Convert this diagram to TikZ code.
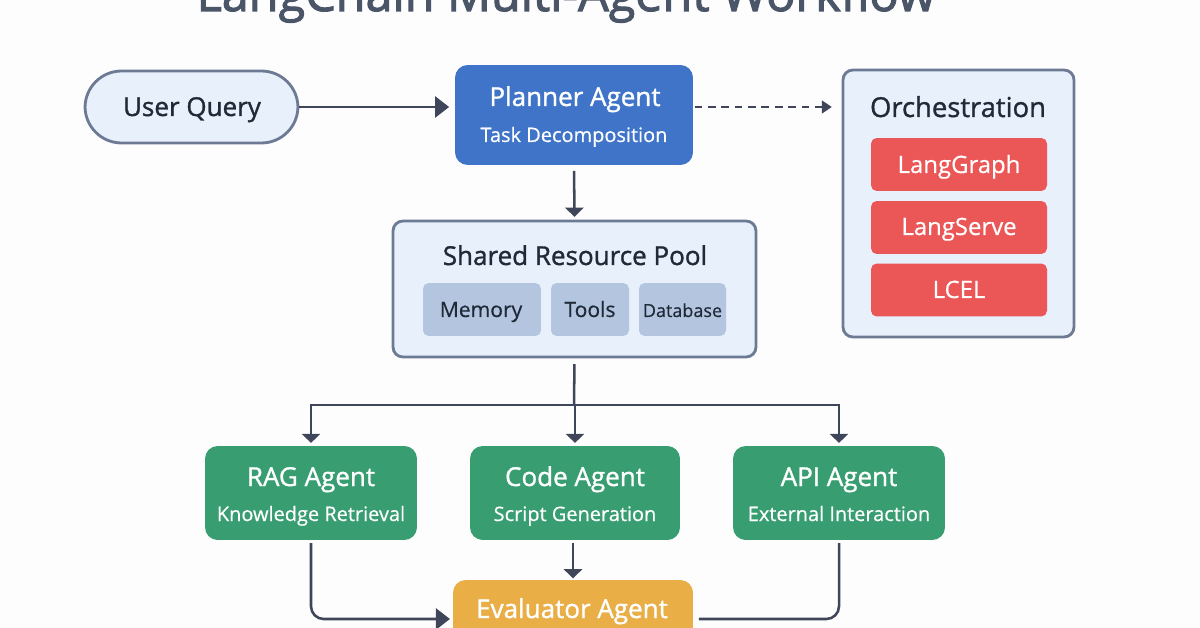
\documentclass[tikz,border=0pt]{standalone}
\usepackage{fontspec}
\setmainfont{Open Sans}[FakeBold=1.2]
\newfontfamily\titlefont{Open Sans}[FakeBold=2.2]
\newfontfamily\subfont{Open Sans}[FakeBold=0.5]
\usetikzlibrary{arrows.meta}
\definecolor{pagewhite}{HTML}{FDFDFE}
\definecolor{paleblue}{HTML}{E7F0FB}
\definecolor{edgeslate}{HTML}{6C7A94}
\definecolor{plannerblue}{HTML}{3F74C8}
\definecolor{agentgreen}{HTML}{389E72}
\definecolor{toolred}{HTML}{EB5757}
\definecolor{evalorange}{HTML}{E9AE45}
\definecolor{slotblue}{HTML}{B4C6DF}
\definecolor{inkdark}{HTML}{1F2937}
\definecolor{titleslate}{HTML}{4A5568}
\definecolor{linkslate}{HTML}{3F4659}
\tikzset{
    panel/.style={draw=edgeslate, line width=2pt, fill=paleblue, rounded corners=7pt, inner sep=0pt},
    solidbox/.style={rounded corners=9pt, inner sep=0pt},
    smallbox/.style={rounded corners=4pt, inner sep=0pt},
    head/.style={font=\fontsize{18.5}{20}\selectfont, inner sep=0pt, anchor=base},
    sub/.style={font=\subfont\fontsize{14.2}{16}\selectfont, inner sep=0pt, anchor=base, text=white},
    chip/.style={font=\subfont\fontsize{15}{17}\selectfont, inner sep=0pt, anchor=base, text=inkdark},
    toollabel/.style={font=\subfont\fontsize{17}{19}\selectfont, inner sep=0pt, anchor=base, text=white},
    plainlink/.style={draw=linkslate, line width=1.8pt},
    sidelink/.style={plainlink, -{Triangle[length=10pt,width=15pt]}},
    downlink/.style={plainlink, -{Triangle[length=6.5pt,width=13pt]}},
}
\begin{document}
\begin{tikzpicture}[x=0.025cm, y=-0.025cm]
        \useasboundingbox[fill=pagewhite] (0,0) rectangle (1200,628);
        \node[inner sep=0pt, text=titleslate, font=\titlefont\fontsize{34.5}{36}\selectfont, anchor=base] (title) at (566,11) {LangChain Multi-Agent Workflow};
        % top row
        \node[panel, rounded corners=26pt, minimum width=213*0.711pt, minimum height=72*0.711pt] (user) at (191.5,107) {};
        \node[head, text=inkdark] (userlabel) at (192,116) {User Query};
        \node[solidbox, fill=plannerblue, minimum width=238*0.711pt, minimum height=100*0.711pt] (planner) at (574,115) {};
        \node[head, text=white] (plannerlabel) at (575,106) {Planner Agent};
        \node[sub] (plannersub) at (574,142) {Task Decomposition};
        % orchestration panel
        \node[panel, minimum width=231*0.711pt, minimum height=267*0.711pt] (orch) at (958.5,203.5) {};
        \node[head, text=inkdark, font=\fontsize{19.5}{21}\selectfont] (orchlabel) at (958,117) {Orchestration};
        \foreach \name/\y/\base/\txt in {graph/164.5/173/LangGraph, serve/227.5/235/LangServe, lcel/290/298/LCEL}{
            \node[smallbox, fill=toolred, minimum width=176*0.711pt, minimum height=53*0.711pt] (\name) at (959,\y) {};
            \node[toollabel] (\name label) at (959,\base) {\txt};
        }
        % resource pool
        \node[panel, minimum width=363*0.711pt, minimum height=136*0.711pt] (pool) at (574.5,289) {};
        \node[head, text=inkdark] (poollabel) at (575,265) {Shared Resource Pool};
        \foreach \name/\x/\w in {memory/482/118, tools/590/78, database/682.5/87}{
            \node[smallbox, fill=slotblue, minimum width=\w*0.711pt, minimum height=53*0.711pt] (\name) at (\x,309.5) {};
        }
        \node[chip] (memorylabel) at (481,317) {Memory};
        \node[chip] (toolslabel) at (590,317) {Tools};
        \node[chip, font=\subfont\fontsize{12.8}{15}\selectfont] (databaselabel) at (682.5,317) {Database};
        % agents
        \foreach \name/\x/\w/\txt/\subtxt in {rag/311/212/RAG Agent/Knowledge Retrieval, code/575/210/Code Agent/Script Generation, api/839/212/API Agent/External Interaction}{
            \node[solidbox, fill=agentgreen, minimum width=\w*0.711pt, minimum height=94*0.711pt] (\name) at (\x,493) {};
            \node[head, text=white] (\name label) at (\x,486) {\txt};
            \node[sub] (\name sub) at (\x,521) {\subtxt};
        }
        \node[solidbox, fill=evalorange, minimum width=240*0.711pt, minimum height=78*0.711pt] (evaluator) at (573,619) {};
        \node[head, text=white] (evaluatorlabel) at (572,618) {Evaluator Agent};
        % connectors
        \coordinate (split) at (574,405);
        \draw[sidelink, shorten >=4pt] (user.east) -- (planner.west |- user.east);
        \draw[draw=linkslate, line width=1.3pt, dash pattern=on 5.5pt off 4pt, -{Triangle[length=7pt,width=9pt]}, shorten <=1pt, shorten >=7pt] (planner.east |- user.east) -- (orch.west |- user.east);
        \draw[downlink, shorten <=4pt, shorten >=2pt] (planner.south) -- (pool.north);
        \draw[plainlink, shorten <=4pt] (pool.south) -- (split);
        \foreach \name in {rag,code,api}{
            \draw[downlink, shorten >=2pt] (split) -| (\name.north);
        }
        \draw[sidelink, rounded corners=9pt, shorten <=2pt, shorten >=2pt] (rag.south) |- (evaluator.west);
        \draw[downlink, shorten <=2pt, shorten >=1pt] (code.south -| evaluator.north) -- (evaluator.north);
        \draw[plainlink, rounded corners=9pt, shorten <=2pt, shorten >=-1pt] (api.south) |- ([xshift=5pt]evaluator.east);
\end{tikzpicture}
\end{document}
